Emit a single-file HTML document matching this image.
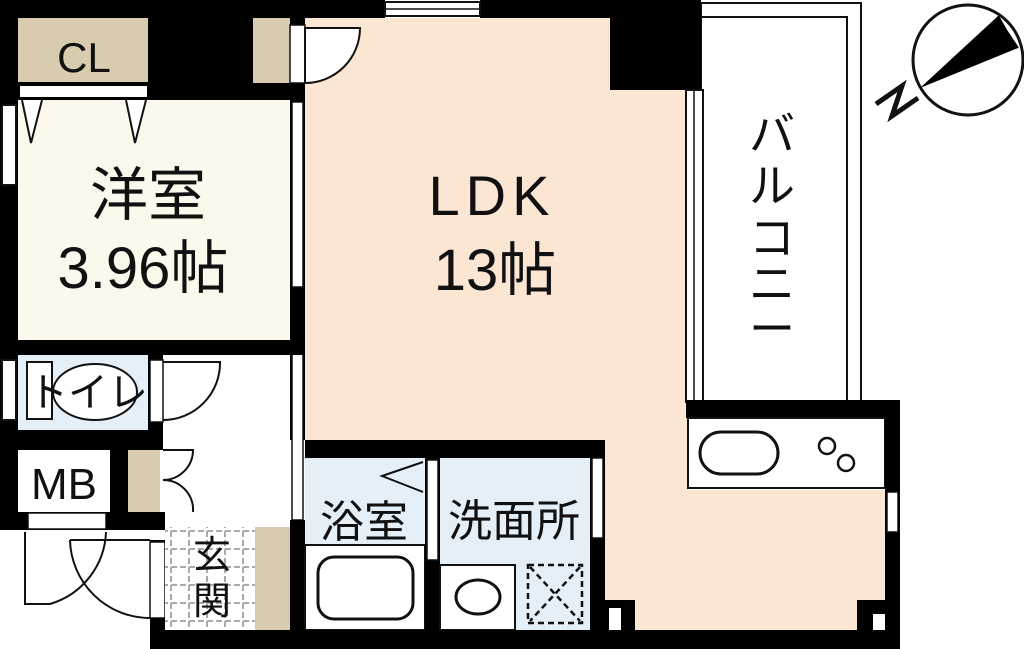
<!DOCTYPE html>
<html><head><meta charset="utf-8"><style>
html,body{margin:0;padding:0;background:#fff;width:1024px;height:649px;overflow:hidden}
svg{display:block}
text{font-family:"Liberation Sans","Noto Sans CJK JP",sans-serif;fill:#111}
</style></head><body>
<svg width="1024" height="649" viewBox="0 0 1024 649" xmlns="http://www.w3.org/2000/svg">
<defs>
<pattern id="tile" width="18" height="18" patternUnits="userSpaceOnUse">
<rect width="18" height="18" fill="#fff"/>
<path d="M0 9H18M9 0V18" stroke="#aaa" stroke-width="2" stroke-dasharray="6 3"/>
</pattern>
</defs>
<path d="M305 18 H610 V90 H690 V400 H688 V490 H887 V630 H605 V440 H305 Z" fill="#fbe6d4"/>
<rect x="701" y="3" width="160" height="400" fill="#fff" stroke="#111" stroke-width="2"/>
<path d="M701 17 H847 V400" fill="none" stroke="#111" stroke-width="2"/>
<rect x="0" y="0" width="385" height="18" fill="#000"/>
<rect x="480" y="0" width="221" height="18" fill="#000"/>
<rect x="385" y="2" width="95" height="14" fill="#fff" stroke="#111" stroke-width="2"/>
<line x1="385" y1="9" x2="480" y2="9" stroke="#111" stroke-width="1.5"/>
<rect x="610" y="0" width="91" height="90" fill="#000"/>
<rect x="0" y="0" width="18" height="530" fill="#000"/>
<rect x="2" y="105" width="14" height="80" fill="#fff" stroke="#111" stroke-width="2"/>
<rect x="2" y="360" width="14" height="60" fill="#fff" stroke="#111" stroke-width="2"/>
<rect x="18" y="18" width="130" height="64" fill="#d9ccae"/>
<text x="84" y="72" font-size="42" text-anchor="middle">CL</text>
<rect x="148" y="18" width="157" height="82" fill="#000"/>
<rect x="18" y="82" width="130" height="18" fill="#000"/>
<rect x="20" y="86" width="127" height="11" fill="#fff"/>
<rect x="253" y="18" width="37" height="65" fill="#d9ccae"/>
<rect x="290" y="25" width="15" height="58" fill="#fff" stroke="#111" stroke-width="1.5"/>
<path d="M305 28 H360 A55 55 0 0 1 305 83 Z" fill="#fff" stroke="#111" stroke-width="2"/>
<rect x="18" y="100" width="272" height="240" fill="#fdf8ec"/>
<path d="M22 100 L31 143 L42 100 M126 100 L135 143 L146 100" fill="#fff" stroke="#111" stroke-width="2"/>
<text x="148" y="215" font-size="58" text-anchor="middle">洋室</text>
<text x="143" y="288" font-size="58" text-anchor="middle">3.96帖</text>
<rect x="290" y="100" width="15" height="340" fill="#000"/>
<rect x="292" y="102" width="11" height="185" fill="#fff" stroke="#111" stroke-width="1.5"/>
<rect x="292" y="350" width="11" height="170" fill="#fff" stroke="#111" stroke-width="1.5"/>
<text x="492" y="215" font-size="56" text-anchor="middle" letter-spacing="6">LDK</text>
<text x="495" y="290" font-size="58" text-anchor="middle">13帖</text>
<rect x="686" y="90" width="17" height="312" fill="#fff" stroke="#111" stroke-width="2"/>
<line x1="694" y1="90" x2="694" y2="400" stroke="#111" stroke-width="1.5"/>
<text font-size="46" text-anchor="middle"><tspan x="772" y="150">バ</tspan><tspan x="772" y="202">ル</tspan><tspan x="772" y="254">コ</tspan><tspan x="772" y="300">ニ</tspan><tspan x="772" y="345">ー</tspan></text>
<circle cx="968" cy="60" r="55" fill="#fff" stroke="#111" stroke-width="3"/>
<path d="M920 88 L998 16 L1018 48 Z" fill="#000"/>
<path d="M998 16 L1006 30 L1018 48" fill="#fff" stroke="#000" stroke-width="2"/>
<path d="M876 104 L902 86 L892 116 L918 98" fill="none" stroke="#111" stroke-width="5"/>
<rect x="0" y="340" width="305" height="15" fill="#000"/>
<rect x="18" y="355" width="130" height="75" fill="#e4eff7"/>
<rect x="27" y="362" width="25" height="57" fill="#fff" stroke="#111" stroke-width="2"/>
<ellipse cx="95" cy="392" rx="42" ry="28" fill="#fff" stroke="#111" stroke-width="2"/>
<text x="88" y="406" font-size="40" text-anchor="middle">トイレ</text>
<rect x="148" y="355" width="15" height="95" fill="#000"/>
<rect x="150" y="360" width="13" height="62" fill="#fff" stroke="#111" stroke-width="1.5"/>
<path d="M163 362 H220 A57 57 0 0 1 163 420" fill="none" stroke="#111" stroke-width="2"/>
<rect x="0" y="430" width="163" height="20" fill="#000"/>
<rect x="0" y="450" width="18" height="80" fill="#000"/>
<rect x="18" y="450" width="92" height="62" fill="#fff"/>
<text x="64" y="499" font-size="44" text-anchor="middle">MB</text>
<rect x="110" y="450" width="18" height="80" fill="#000"/>
<rect x="128" y="450" width="32" height="62" fill="#d9ccae"/>
<rect x="18" y="512" width="147" height="18" fill="#000"/>
<rect x="28" y="513" width="78" height="16" fill="#fff" stroke="#111" stroke-width="1.5"/>
<path d="M163 450 H193 A30 30 0 0 1 163 480 A30 30 0 0 1 193 512" fill="none" stroke="#111" stroke-width="2"/>
<path d="M25 532 V604 H50 A78 78 0 0 0 106 532 M70 540 H150 M70 540 A80 80 0 0 0 150 618" fill="none" stroke="#111" stroke-width="2"/>
<rect x="150" y="540" width="15" height="109" fill="#000"/>
<rect x="150" y="542" width="15" height="76" fill="#fff" stroke="#111" stroke-width="1.5"/>
<rect x="165" y="527" width="90" height="103" fill="url(#tile)"/>
<rect x="255" y="527" width="35" height="103" fill="#d9ccae"/>
<text x="212" y="568" font-size="38" text-anchor="middle">玄</text>
<text x="212" y="614" font-size="38" text-anchor="middle">関</text>
<rect x="290" y="520" width="16" height="129" fill="#000"/>
<rect x="305" y="440" width="300" height="18" fill="#000"/>
<rect x="305" y="458" width="120" height="172" fill="#e4eff7"/>
<path d="M423 462 L382 476 L423 492" fill="none" stroke="#111" stroke-width="2"/>
<text x="364" y="537" font-size="44" text-anchor="middle">浴室</text>
<rect x="305" y="545" width="120" height="85" fill="#fff" stroke="#111" stroke-width="2"/>
<rect x="318" y="557" width="95" height="62" rx="16" fill="#fff" stroke="#111" stroke-width="3"/>
<rect x="425" y="458" width="15" height="172" fill="#000"/>
<rect x="427" y="460" width="11" height="100" fill="#fff" stroke="#111" stroke-width="1.5"/>
<rect x="440" y="458" width="150" height="172" fill="#e4eff7"/>
<text x="514" y="536" font-size="44" text-anchor="middle">洗面所</text>
<rect x="440" y="565" width="75" height="65" fill="#fff" stroke="#111" stroke-width="2"/>
<ellipse cx="478" cy="597" rx="22" ry="17" fill="#fff" stroke="#111" stroke-width="3"/>
<rect x="528" y="565" width="54" height="58" fill="none" stroke="#111" stroke-width="2.5" stroke-dasharray="6 4"/>
<path d="M530 567 L580 621 M580 567 L530 621" stroke="#111" stroke-width="2.5" stroke-dasharray="6 4"/>
<rect x="590" y="440" width="15" height="190" fill="#000"/>
<rect x="592" y="458" width="11" height="80" fill="#fff" stroke="#111" stroke-width="1.5"/>
<rect x="605" y="600" width="30" height="30" fill="#000"/>
<rect x="609" y="608" width="12" height="22" fill="#fff"/>
<rect x="686" y="400" width="214" height="18" fill="#000"/>
<rect x="688" y="418" width="197" height="70" fill="#fff" stroke="#111" stroke-width="2"/>
<rect x="700" y="432" width="78" height="42" rx="21" fill="#fff" stroke="#111" stroke-width="3"/>
<circle cx="827" cy="446" r="8" fill="#fff" stroke="#111" stroke-width="2.5"/>
<circle cx="846" cy="463" r="8" fill="#fff" stroke="#111" stroke-width="2.5"/>
<rect x="885" y="400" width="15" height="249" fill="#000"/>
<rect x="887" y="492" width="11" height="40" fill="#fff" stroke="#111" stroke-width="1.5"/>
<rect x="857" y="600" width="30" height="30" fill="#000"/>
<rect x="873" y="614" width="12" height="16" fill="#fff"/>
<rect x="150" y="630" width="750" height="19" fill="#000"/>
</svg>
</body></html>
